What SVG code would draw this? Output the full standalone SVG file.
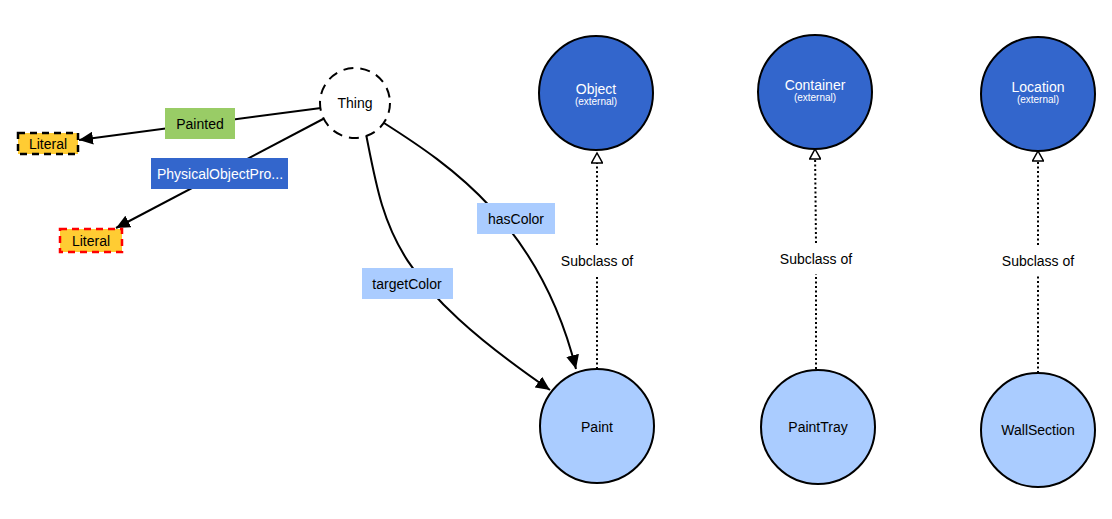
<svg xmlns="http://www.w3.org/2000/svg" width="1112" height="519" viewBox="0 0 1112 519">
<style>
text{font-family:"Liberation Sans",Arial,sans-serif;font-size:14px;text-anchor:middle;dominant-baseline:central;fill:#000}
.ext{fill:#3366cc;stroke:#000;stroke-width:2}
.cls{fill:#aaccff;stroke:#000;stroke-width:2}
.w{fill:#fff}
.sm{font-size:10px}
.edge{fill:none;stroke:#000;stroke-width:2}
.sub{fill:none;stroke:#000;stroke-width:2;stroke-dasharray:2 2.5}
.lit{fill:#ffcc33;stroke-width:2.5;stroke-dasharray:7 5}
</style>
<defs>
<marker id="arr" markerUnits="userSpaceOnUse" markerWidth="15" markerHeight="13" refX="14" refY="6.5" orient="auto">
<path d="M0,0 L14,6.5 L0,13 Z" fill="#000"/>
</marker>
<marker id="tri" markerUnits="userSpaceOnUse" markerWidth="14" markerHeight="12" refX="11" refY="6" orient="auto">
<path d="M1,0.5 L11,6 L1,11.5 Z" fill="#fff" stroke="#000" stroke-width="1.5"/>
</marker>
</defs>
<g id="connectors">
<path class="edge" d="M321,108 L79,140" marker-end="url(#arr)"/>
<path class="edge" d="M325,118 L116,228" marker-end="url(#arr)"/>
<path class="edge" d="M384,123 C450,165 540,225 576,369" marker-end="url(#arr)"/>
<path class="edge" d="M366,134 C385,230 390,280 550,390" marker-end="url(#arr)"/>
<path class="sub" d="M597,369 L597,276"/>
<path class="sub" d="M597,245 L597,153" marker-end="url(#tri)"/>
<path class="sub" d="M816,369 L816,274"/>
<path class="sub" d="M816,243 L815,149" marker-end="url(#tri)"/>
<path class="sub" d="M1038,373 L1038,276"/>
<path class="sub" d="M1038,245 L1038,151" marker-end="url(#tri)"/>
<g id="label-painted"><rect x="165" y="108" width="70" height="31" fill="#99cc66"/><text x="200" y="124">Painted</text></g>
<g id="label-physical"><rect x="151" y="158" width="137" height="31" fill="#3366cc"/><text class="w" x="220" y="174">PhysicalObjectPro...</text></g>
<g id="label-hascolor"><rect x="477" y="203" width="78" height="31" fill="#aaccff"/><text x="516" y="219">hasColor</text></g>
<g id="label-targetcolor"><rect x="362" y="268" width="91" height="31" fill="#aaccff"/><text x="407" y="284">targetColor</text></g>
<text x="597" y="261">Subclass of</text>
<text x="816" y="259">Subclass of</text>
<text x="1038" y="261">Subclass of</text>
</g>
<g id="node-thing"><circle cx="355" cy="103" r="35" fill="#fff" stroke="#000" stroke-width="2" stroke-dasharray="10 7"/><text x="355" y="103">Thing</text></g>
<g id="node-literal1"><rect class="lit" x="18" y="133" width="60" height="21" stroke="#000"/><text x="48" y="144">Literal</text></g>
<g id="node-literal2"><rect class="lit" x="60" y="229" width="62" height="23" stroke="#ff0000"/><text x="91" y="241">Literal</text></g>
<g id="node-object"><circle class="ext" cx="596" cy="93" r="57"/><text class="w" x="596" y="89">Object</text><text class="w sm" x="596" y="101">(external)</text></g>
<g id="node-container"><circle class="ext" cx="815" cy="92" r="57"/><text class="w" x="815" y="85">Container</text><text class="w sm" x="815" y="97">(external)</text></g>
<g id="node-location"><circle class="ext" cx="1038" cy="94" r="57"/><text class="w" x="1038" y="87">Location</text><text class="w sm" x="1038" y="99">(external)</text></g>
<g id="node-paint"><circle class="cls" cx="597" cy="426" r="57"/><text x="597" y="427">Paint</text></g>
<g id="node-painttray"><circle class="cls" cx="818" cy="427" r="57"/><text x="818" y="427">PaintTray</text></g>
<g id="node-wallsection"><circle class="cls" cx="1038" cy="430" r="57"/><text x="1038" y="430">WallSection</text></g>
</svg>
